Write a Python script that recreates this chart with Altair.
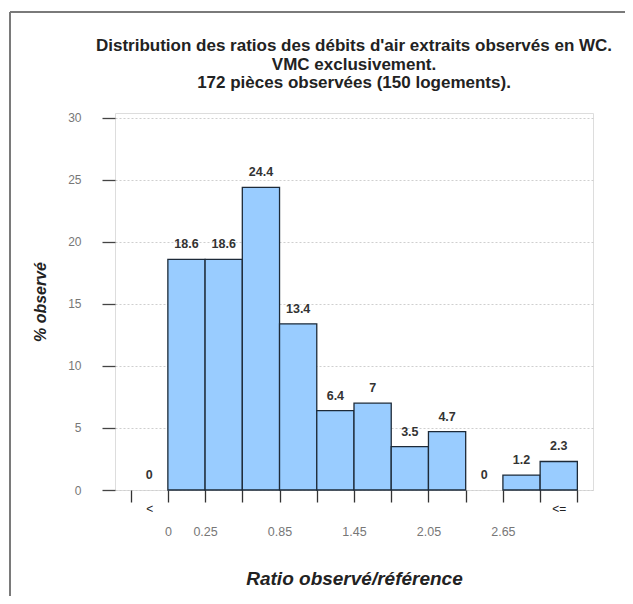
import altair as alt
import pandas as pd

# ---- data ----
bin_start = list(range(12))
bin_end = [i + 1 for i in bin_start]
pct = [0, 18.6, 18.6, 24.4, 13.4, 6.4, 7, 3.5, 4.7, 0, 1.2, 2.3]
pct_labels = ["0", "18.6", "18.6", "24.4", "13.4", "6.4", "7", "3.5", "4.7", "0", "1.2", "2.3"]
edge_pos = list(range(13))
num_tick_pos = [1, 2, 4, 6, 8, 10]
num_tick_text = ["0", "0.25", "0.85", "1.45", "2.05", "2.65"]
sym_tick_pos = [0.5, 11.5]
sym_tick_text = ["<", "<="]
y_ticks = [0, 5, 10, 15, 20, 25, 30]
title_lines = [
    "Distribution des ratios des débits d'air extraits observés en WC.",
    "VMC exclusivement.",
    "172 pièces observées (150 logements).",
]

FONT = "Liberation Sans"
W, H = 478, 377

df = pd.DataFrame({"start": bin_start, "end": bin_end, "pct": pct, "lab": pct_labels})


def label_expr(positions, texts):
    expr = "''"
    for p, t in zip(reversed(positions), reversed(texts)):
        expr = f"datum.value == {p} ? '{t}' : ({expr})"
    return expr


x_scale = alt.Scale(domain=[-0.42, 12.42], nice=False, zero=False)
y_scale = alt.Scale(domain=[0, 30.4], nice=False)

x_axis = alt.Axis(
    values=edge_pos,
    labelExpr=label_expr(num_tick_pos, num_tick_text),
    labelOverlap=False,
    labelFlush=False,
    labelBound=False,
    domain=False,
    grid=False,
    tickSize=12,
    tickColor="#333",
    tickWidth=1.3,
    labelPadding=23,
    labelColor="#777",
    labelFontSize=12.5,
    labelFont=FONT,
    title="Ratio observé/référence",
    titleFont=FONT,
    titleFontSize=19,
    titleFontWeight="bold",
    titleFontStyle="italic",
    titleColor="#222",
    titleX=W / 2,
    titleY=88,
    titleBaseline="middle",
)

sym_axis = alt.Axis(
    orient="bottom",
    values=sym_tick_pos,
    labelExpr=label_expr(sym_tick_pos, sym_tick_text),
    labelOverlap=False,
    labelFlush=False,
    labelBound=False,
    domain=False,
    grid=False,
    ticks=False,
    labelPadding=13,
    labelColor="#222",
    labelFontSize=12,
    labelFont=FONT,
    title=None,
)

y_axis = alt.Axis(
    values=y_ticks,
    domain=False,
    tickSize=13,
    tickColor="#444",
    tickWidth=1.3,
    labelPadding=21,
    labelColor="#777",
    labelFontSize=12,
    labelFont=FONT,
    grid=True,
    gridColor="#cfcfcf",
    gridDash=[2, 2],
    gridWidth=1,
    title="% observé",
    titleFont=FONT,
    titleFontSize=16,
    titleFontWeight="bold",
    titleFontStyle="italic",
    titleColor="#222",
    titleX=-75,
    titleY=H / 2,
    titleBaseline="middle",
    titleAlign="center",
    titleAngle=270,
)

base = alt.Chart(df)

bars = base.transform_filter("datum.pct > 0").mark_bar(
    color="#99CCFF", stroke="#1d2a38", strokeWidth=1.3
).encode(
    x=alt.X("start:Q", scale=x_scale, axis=x_axis),
    x2="end:Q",
    y=alt.Y("pct:Q", scale=y_scale, axis=y_axis),
    y2=alt.datum(0),
)

labels = base.transform_calculate(mid="(datum.start + datum.end) / 2").mark_text(
    font=FONT, fontSize=12.5, fontWeight="bold", color="#333", baseline="alphabetic", dy=-11
).encode(
    x=alt.X("mid:Q", scale=x_scale, axis=x_axis),
    y=alt.Y("pct:Q", scale=y_scale, axis=y_axis),
    text="lab:N",
)

main = alt.layer(bars, labels)

sym_df = pd.DataFrame({"pos": sym_tick_pos})
sym_layer = alt.Chart(sym_df).mark_point(opacity=0).encode(
    x=alt.X("pos:Q", scale=x_scale, axis=sym_axis),
    y=alt.Y("pos:Q", scale=y_scale, axis=y_axis),
)

frame_df = pd.DataFrame({"k": [0]})
frame_left = alt.Chart(frame_df).mark_rule(color="#7a7a7a", strokeWidth=2).encode(
    x=alt.value(-105), y=alt.value(-101), y2=alt.value(700)
)
frame_top = alt.Chart(frame_df).mark_rule(color="#7a7a7a", strokeWidth=2).encode(
    x=alt.value(-105), x2=alt.value(700), y=alt.value(-101)
)

chart = alt.layer(frame_left, frame_top, main, sym_layer).resolve_scale(
    x="independent"
).resolve_axis(x="independent").properties(
    width=W,
    height=H,
    autosize=alt.AutoSizeParams(type="none"),
    padding={"left": 107, "top": 105, "right": 32, "bottom": 106},
    title=alt.Title(
        text=title_lines,
        font=FONT,
        fontSize=17,
        fontWeight="bold",
        color="#222",
        lineHeight=18.5,
        anchor="middle",
        offset=0,
        dy=81,
    ),
).configure_view(stroke="#555", strokeWidth=1.5).configure(background="white")

chart.save("out.html", embed_options={"renderer": "svg", "actions": False})
